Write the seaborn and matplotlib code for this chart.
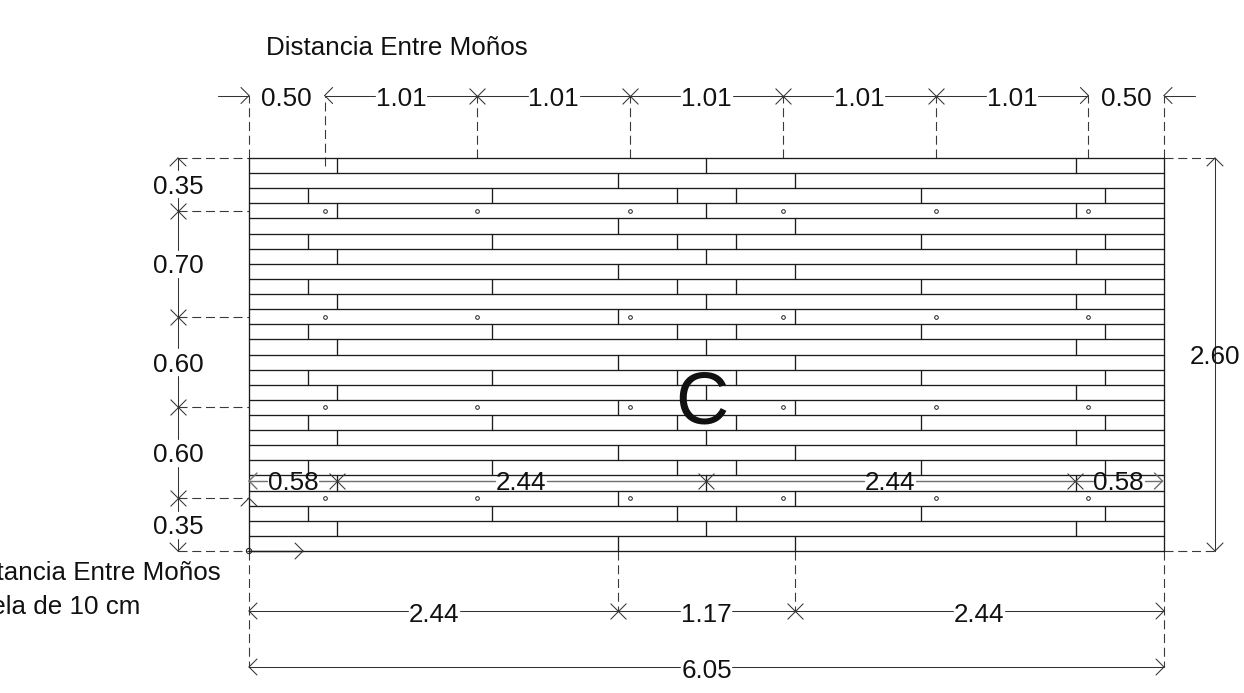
import numpy as np
import pandas as pd
import matplotlib
matplotlib.use("Agg")
import matplotlib.pyplot as plt
import seaborn as sns

# ---- values (metres) ----
panel_width = 6.05
panel_height = 2.60
course_height = 0.10
joints_a = [0.58, 3.02, 5.47]
joints_b = [2.44, 3.61]
joints_c = [0.39, 1.61, 2.83, 3.22, 4.44, 5.66]

top_spans = [0.50, 1.01, 1.01, 1.01, 1.01, 1.01, 0.50]
left_spans = [0.35, 0.70, 0.60, 0.60, 0.35]
inner_spans = [0.58, 2.44, 2.44, 0.58]
lower_spans = [2.44, 1.17, 2.44]
total_span = [6.05]
right_span = [2.60]

title_top = "Distancia Entre Moños"
note_line1 = "Distancia Entre Moños"
note_line2 = "Duela de 10 cm"
big_letter = "C"

# ---- figure ----
W, H = 1244, 693
PX = 915 / panel_width
PY = 393 / panel_height
X0, Y0 = 249, 551


def mx(px):
    return (px - X0) / PX


def my(py):
    return (Y0 - py) / PY


sns.set_theme(style="white")
plt.rcParams["font.family"] = ["Liberation Sans", "DejaVu Sans"]
plt.rcParams["lines.scale_dashes"] = False
fig = plt.figure(figsize=(W / 100, H / 100), dpi=100, facecolor="white")
ax = fig.add_axes([0, 0, 1, 1])

solid, dim, inner, dashed = [], [], [], []


def seg(store, x0, y0, x1, y1):
    store.append((x0, y0, x1, y1))


def head(store, x, y, dx, dy):
    """open arrow head with its tip on (x, y), pointing along (dx, dy)"""
    hx, hy = 8 / PX, 8 / PY
    if dx:
        seg(store, x, y, x - dx * hx, y + hy)
        seg(store, x, y, x - dx * hx, y - hy)
    else:
        seg(store, x, y, x + hx, y - dy * hy)
        seg(store, x, y, x - hx, y - dy * hy)


# planks
n_courses = int(round(panel_height / course_height))
pattern = [joints_a, joints_b, joints_c]
for i in range(n_courses + 1):
    y = i * course_height
    seg(solid, 0, y, panel_width, y)
for i in range(n_courses):
    top = panel_height - i * course_height
    for j in pattern[i % 3]:
        seg(solid, j, top, j, top - course_height)
seg(solid, 0, 0, 0, panel_height)
seg(solid, panel_width, 0, panel_width, panel_height)

# stations
top_st = np.concatenate([[0], np.cumsum(top_spans)])
left_st = panel_height - np.concatenate([[0], np.cumsum(left_spans)])
inner_st = np.concatenate([[0], np.cumsum(inner_spans)])
lower_st = np.concatenate([[0], np.cumsum(lower_spans)])
hole_x = top_st[1:-1]
hole_y = left_st[1:-1]

y_top = my(95.5)
x_left = mx(178)
x_right = mx(1215)
y_inner = my(481)
y_low = my(611)
y_total = my(667)
half_text = 26 / PX
text_drop = 1 / PY

labels = []
crosses = []


def hchain(stations, values, y, store, drop=0.0):
    for a, b, v in zip(stations[:-1], stations[1:], values):
        c = (a + b) / 2
        seg(store, a, y, c - half_text, y)
        seg(store, c + half_text, y, b, y)
        labels.append((c, y - drop, f"{v:.2f}"))
    for s in stations[1:-1]:
        crosses.append((s, y))
    head(store, stations[0], y, -1, 0)
    head(store, stations[-1], y, 1, 0)


# top chain: the two end spans carry their arrows outside
stub = 31 / PX
seg(dim, -stub, y_top, 0, y_top)
head(dim, 0, y_top, 1, 0)
seg(dim, panel_width, y_top, panel_width + stub, y_top)
head(dim, panel_width, y_top, -1, 0)
labels.append(((top_st[0] + top_st[1]) / 2, y_top - text_drop, f"{top_spans[0]:.2f}"))
labels.append(((top_st[-2] + top_st[-1]) / 2, y_top - text_drop, f"{top_spans[-1]:.2f}"))
for a, b, v in zip(top_st[1:-2], top_st[2:-1], top_spans[1:-1]):
    c = (a + b) / 2
    seg(dim, a, y_top, c - half_text, y_top)
    seg(dim, c + half_text, y_top, b, y_top)
    labels.append((c, y_top - text_drop, f"{v:.2f}"))
head(dim, top_st[1], y_top, -1, 0)
head(dim, top_st[-2], y_top, 1, 0)
crosses += [(s, y_top) for s in top_st[2:-2]]

# left chain
half_h = 14 / PY
for a, b, v in zip(left_st[:-1], left_st[1:], left_spans):
    c = (a + b) / 2
    seg(dim, x_left, a, x_left, c + half_h)
    seg(dim, x_left, c - half_h, x_left, b)
    labels.append((x_left, c, f"{v:.2f}"))
head(dim, x_left, left_st[0], 0, 1)
head(dim, x_left, left_st[-1], 0, -1)
crosses += [(x_left, s) for s in left_st[1:-1]]

# right overall
seg(dim, x_right, 0, x_right, panel_height)
head(dim, x_right, panel_height, 0, 1)
head(dim, x_right, 0, 0, -1)
labels.append((x_right, panel_height / 2, f"{right_span[0]:.2f}"))

# horizontal chains
hchain(inner_st, inner_spans, y_inner, inner)
hchain(lower_st, lower_spans, y_low, dim, text_drop)
hchain([0, total_span[0]], total_span, y_total, dim, text_drop)

# origin marker arrow
seg(solid, 0, 0, mx(303), 0)
head(dim, mx(303), 0, 1, 0)
head(dim, 0, hole_y[-1], 0, 1)

# dashed extension lines
seg(dashed, 0, panel_height, 0, y_top)
seg(dashed, panel_width, panel_height, panel_width, y_top)
seg(dashed, hole_x[0], panel_height - 0.05, hole_x[0], y_top)
for s in hole_x[1:]:
    seg(dashed, s, panel_height, s, y_top)
for s in left_st:
    seg(dashed, x_left, s, 0, s)
seg(dashed, panel_width, panel_height, x_right, panel_height)
seg(dashed, panel_width, 0, x_right, 0)
seg(dashed, 0, 0, 0, y_total)
seg(dashed, panel_width, 0, panel_width, y_total)
for s in lower_st[1:-1]:
    seg(dashed, s, 0, s, y_low)


def frame(store):
    rows = []
    for k, (a, b, c, d) in enumerate(store):
        rows += [(k, a, b), (k, c, d)]
    return pd.DataFrame(rows, columns=["seg", "x", "y"])


def draw(store, **kw):
    sns.lineplot(data=frame(store), x="x", y="y", units="seg", estimator=None,
                 sort=False, errorbar=None, legend=False, ax=ax, **kw)


draw(solid, color="#1c1c1c", lw=0.95, zorder=3)
draw(dim, color="#333333", lw=0.75, zorder=3)
draw(inner, color="#707070", lw=1.0, zorder=4)
draw(dashed, color="#3a3a3a", lw=0.8, zorder=2, linestyle=(0, (6.5, 3.4)))

# holes
hx, hy = np.meshgrid(hole_x, hole_y)
holes = pd.DataFrame({"x": hx.ravel(), "y": hy.ravel()})
sns.scatterplot(data=holes, x="x", y="y", marker="o", s=7, facecolor="white",
                edgecolor="#222222", linewidth=0.7, legend=False, ax=ax, zorder=5)
# origin dot
sns.scatterplot(x=[0], y=[0], marker="o", s=14, facecolor="none",
                edgecolor="#222222", linewidth=0.8, legend=False, ax=ax, zorder=5)
# tick crosses
cr = pd.DataFrame(crosses, columns=["x", "y"])
sns.scatterplot(data=cr, x="x", y="y", marker="x", s=130, color="#333333",
                linewidth=0.75, legend=False, ax=ax, zorder=5)

ax.set_xlim(mx(0), mx(W))
ax.set_ylim(my(H), my(0))
ax.set_axis_off()

FS = 18.7
for x, y, t in labels:
    ax.text(x, y, t, ha="center", va="center_baseline", fontsize=FS, color="#111111", zorder=6)
ax.text(mx(266), my(48), title_top, ha="left", va="center", fontsize=FS, color="#111111")
ax.text(mx(221), my(573), note_line1, ha="right", va="center", fontsize=FS, color="#111111")
ax.text(mx(140), my(607), note_line2, ha="right", va="center", fontsize=FS, color="#111111")
ax.text(mx(702), my(397), big_letter, ha="center", va="center_baseline", fontsize=53, color="#111111", zorder=6)

fig.savefig("out.png", dpi=100, facecolor="white")
